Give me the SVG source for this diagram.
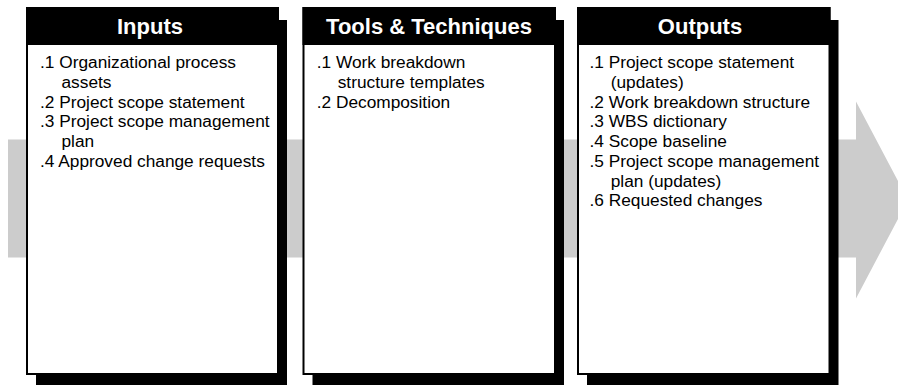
<svg xmlns="http://www.w3.org/2000/svg" width="898" height="385" viewBox="0 0 898 385">
<style>
.bg{fill:#ffffff}
.arrow{fill:#cccccc}
.shadow{fill:#000000}
.box{fill:#ffffff;stroke:#000000;stroke-width:2}
.hdr{fill:#000000}
.title{font-family:"Liberation Sans",Arial,sans-serif;font-weight:bold;font-size:22px;fill:#ffffff;text-anchor:middle}
.item{font-family:"Liberation Sans",Arial,sans-serif;font-size:17.3px;fill:#000000}
</style>
<rect class="bg" x="0" y="0" width="898" height="385"/>
<g id="flow-arrow">
<polygon class="arrow" points="8,139.5 856,139.5 856,101.5 908,200 856,298.5 856,257.5 8,257.5"/>
</g>
<g id="connectors"></g>
<g id="inputs">
<rect class="shadow" x="36" y="20" width="251" height="370"/>
<rect class="box" x="27" y="8" width="251" height="366"/>
<rect class="hdr" x="26" y="7" width="253" height="38"/>
<text class="title" x="150" y="33.5">Inputs</text>
<text class="item" x="40" y="68.3">.1 Organizational process</text>
<text class="item" x="61.5" y="88">assets</text>
<text class="item" x="40" y="107.7">.2 Project scope statement</text>
<text class="item" x="40" y="127.4">.3 Project scope management</text>
<text class="item" x="61.5" y="147.1">plan</text>
<text class="item" x="40" y="166.8">.4 Approved change requests</text>
</g>
<g id="tools">
<rect class="shadow" x="312.5" y="20" width="251.5" height="370"/>
<rect class="box" x="303.5" y="8" width="251.5" height="366"/>
<rect class="hdr" x="302.5" y="7" width="253.5" height="38"/>
<text class="title" x="429" y="33.5">Tools &amp; Techniques</text>
<text class="item" x="316.7" y="68.3">.1 Work breakdown</text>
<text class="item" x="337.7" y="88">structure templates</text>
<text class="item" x="316.7" y="107.7">.2 Decomposition</text>
</g>
<g id="outputs">
<rect class="shadow" x="587" y="20" width="251.5" height="370"/>
<rect class="box" x="578" y="8" width="251.5" height="366"/>
<rect class="hdr" x="577" y="7" width="253.5" height="38"/>
<text class="title" x="700" y="33.5">Outputs</text>
<text class="item" x="589.5" y="68.3">.1 Project scope statement</text>
<text class="item" x="610.7" y="88">(updates)</text>
<text class="item" x="589.5" y="107.7">.2 Work breakdown structure</text>
<text class="item" x="589.5" y="127.4">.3 WBS dictionary</text>
<text class="item" x="589.5" y="147.1">.4 Scope baseline</text>
<text class="item" x="589.5" y="166.8">.5 Project scope management</text>
<text class="item" x="610.7" y="186.5">plan (updates)</text>
<text class="item" x="589.5" y="206.2">.6 Requested changes</text>
</g>
</svg>
